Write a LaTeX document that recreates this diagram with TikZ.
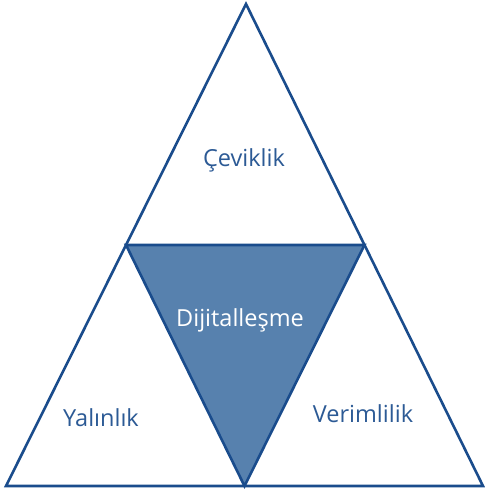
\documentclass[tikz,border=0pt]{standalone}
\usepackage{fontspec}
\setmainfont{Open Sans}
\usepackage{tikz}
\usetikzlibrary{calc, positioning}

\definecolor{navyline}{HTML}{1A4C8C}
\definecolor{innerfill}{HTML}{5781AE}
\definecolor{labeltext}{HTML}{2C5A95}

\begin{document}
\begin{tikzpicture}[
    x=1pt, y=1pt,
    line width=2.6pt,
    line join=miter,
    font=\fontsize{23.5}{28}\selectfont,
    label/.style={anchor=base, text=labeltext, inner sep=0pt},
    edge/.style={draw=navyline}
]

    \useasboundingbox (0, 0) rectangle (484, 492);

    % Outer triangle corners
    \coordinate (top) at (246, 488);
    \coordinate (bl) at (6, 6);
    \coordinate (br) at (483, 6);

    % Midpoints of the sides
    \coordinate (ml) at ($(top)!0.5!(bl)$);
    \coordinate (mr) at ($(top)!0.5!(br)$);
    \coordinate (mb) at ($(bl)!0.5!(br)$);

    % Inner triangle (filled)
    \draw[edge, fill=innerfill] (ml) -- (mr) -- (mb) -- cycle;

    % Outer triangle
    \draw[edge] (top) -- (br) -- (bl) -- cycle;

    % Labels
    \node[label] (ceviklik) at (244, 325) {Çeviklik};
    \node[label, text=white] (dijital) at (240, 165) {Dijitalleşme};
    \node[label] (yalinlik) at (101, 65) {Yalınlık};
    \node[label] (verimlilik) at (363, 69) {Verimlilik};

\end{tikzpicture}
\end{document}
